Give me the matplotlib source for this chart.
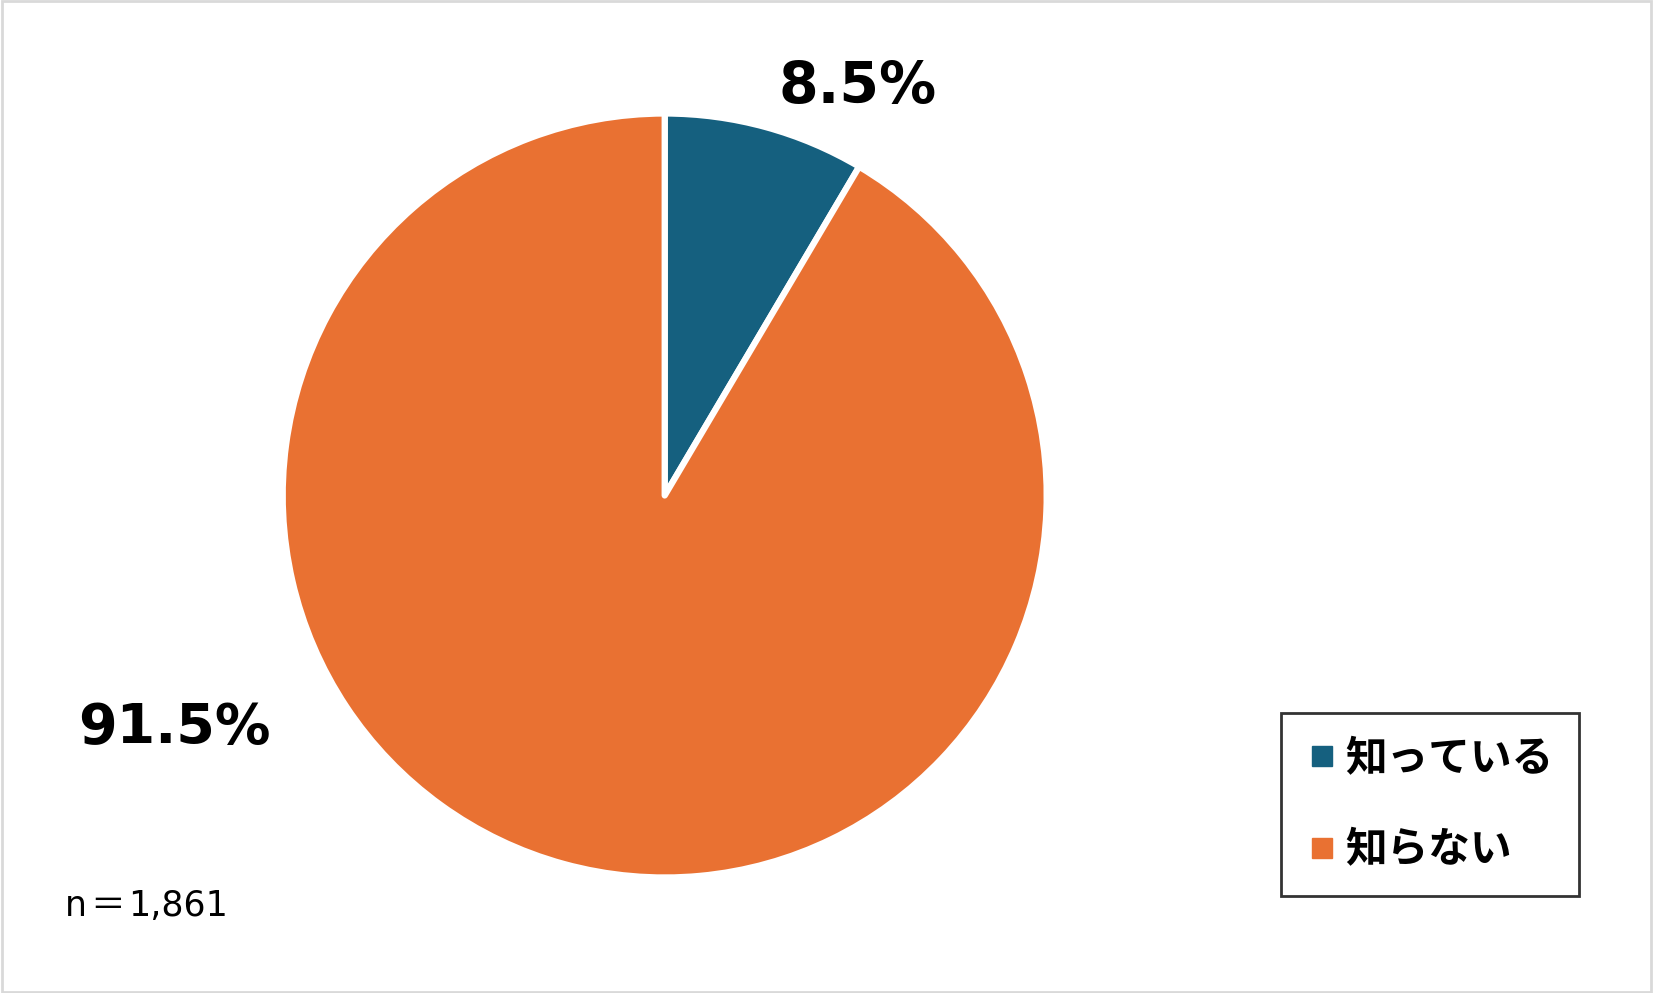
import matplotlib
matplotlib.use("Agg")
import matplotlib.pyplot as plt
from matplotlib.lines import Line2D
from matplotlib.patches import Rectangle

categories = ["知っている", "知らない"]
values = [8.5, 91.5]
colors = ["#15607F", "#E97132"]
value_labels = ["8.5%", "91.5%"]
n_parts = ["n", "＝", "1,861"]

W, H = 1653, 993
fig = plt.figure(figsize=(W / 100, H / 100), dpi=100)
fig.patch.set_facecolor("white")

cx, cy, r = 664.7, 495.5, 382
ax = fig.add_axes([(cx - r) / W, (H - cy - r) / H, 2 * r / W, 2 * r / H])
wedges, _ = ax.pie(values, colors=colors, startangle=90, counterclock=False, radius=1.0,
                   wedgeprops=dict(edgecolor="white", linewidth=4.5))
for w in wedges:
    w.set_joinstyle("round")
ax.set_xlim(-1, 1)
ax.set_ylim(-1, 1)
ax.set_aspect("equal")
ax.axis("off")

fam = ["DejaVu Sans", "Noto Sans CJK JP"]
fig.text(858 / W, 1 - 87 / H, value_labels[0], ha="center", va="center",
         fontsize=41, fontweight="bold", family=fam)
fig.text(174 / W, 1 - 728 / H, value_labels[1], ha="center", va="center",
         fontsize=40, fontweight="bold", family=fam)

# n = 1,861 drawn as pieces (full-width equals sign from the CJK font)
renderer = fig.canvas.get_renderer()
x = 65.0
y = 1 - 906 / H
part_fams = [["DejaVu Sans"], ["Noto Sans CJK JP"], ["DejaVu Sans"]]
gaps = [3, 3, 0]
for part, pf, g in zip(n_parts, part_fams, gaps):
    t = fig.text(x / W, y, part, ha="left", va="center", fontsize=25, family=pf)
    bb = t.get_window_extent(renderer=renderer)
    x += bb.width + g

handles = [Line2D([0], [0], marker="s", linestyle="none", markersize=14,
                  markerfacecolor=c, markeredgecolor=c) for c in colors]
leg = fig.legend(handles, categories, loc="upper left",
                 bbox_to_anchor=(1281 / W, 1 - 713 / H),
                 prop=dict(family="Noto Sans CJK JP", weight="bold", size=30),
                 frameon=True, fancybox=False, edgecolor="black",
                 handlelength=0.75, handletextpad=0.2, labelspacing=1.18,
                 borderpad=0.6, borderaxespad=0)
leg.get_frame().set_linewidth(2)

fig.patches.append(Rectangle((0.001, 0.001), 0.998, 0.998, transform=fig.transFigure,
                             fill=False, edgecolor="#D9D9D9", linewidth=2))

fig.savefig("out.png", dpi=100)
